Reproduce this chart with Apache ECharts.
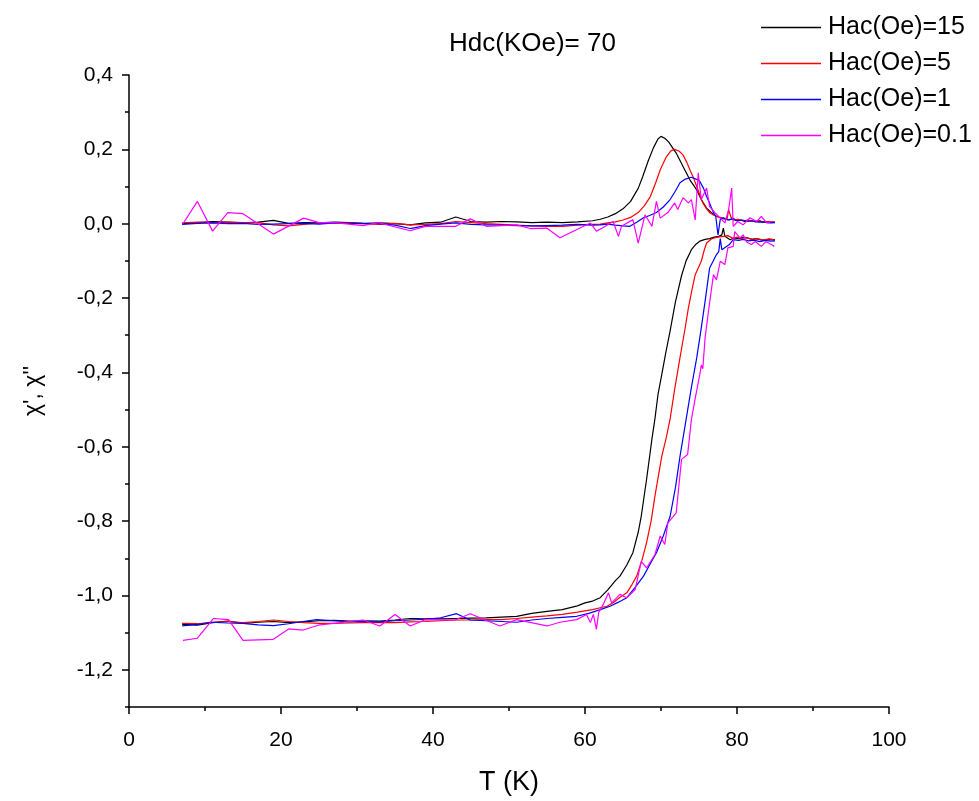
<!DOCTYPE html>
<html>
<head>
<meta charset="utf-8">
<script src="https://cdn.jsdelivr.net/npm/echarts@6/dist/echarts.min.js"></script>
<style>html,body{margin:0;padding:0;background:#fff}#c{width:979px;height:801px}</style>
</head>
<body>
<div id="c"></div>
<script>
// ---- data (T in K, chi values) ----
const seriesNames = ['Hac(Oe)=15', 'Hac(Oe)=5', 'Hac(Oe)=1', 'Hac(Oe)=0.1'];
const titleText = 'Hdc(KOe)= 70';
const xTicks = [0, 20, 40, 60, 80, 100];
const yTickLabels = [-1.2, -1.0, -0.8, -0.6, -0.4, -0.2, 0, 0.2, 0.4];
const yMinorTicks = [-1.3, -1.1, -0.9, -0.7, -0.5, -0.3, -0.1, 0.1, 0.3];

const imag15 = [[7,0.000],[9,0.003],[11,0.006],[13,0.004],[15,0.002],[17,0.004],[19,0.009],[21,0.001],[23,0.003],[25,0.002],[27,0.004],[29,0.003],[31,0.001],[33,0.002],[35,0.000],[37,-0.003],[39,0.002],[41,0.004],[43,0.018],[45,0.006],[47,0.004],[49,0.006],[51,0.005],[53,0.003],[55,0.004],[57,0.003],[59,0.005],[61,0.008],[62,0.012],[63,0.018],[64,0.027],[65,0.040],[66,0.060],[67,0.095],[67.6,0.127],[68.3,0.168],[69,0.204],[69.6,0.228],[70,0.235],[70.5,0.230],[71,0.220],[71.4,0.208],[72,0.190],[72.9,0.154],[73.8,0.118],[74.7,0.091],[75.3,0.065],[76,0.042],[76.6,0.030],[77.3,0.020],[78,0.014],[78.5,0.012],[79,0.010],[79.5,0.014],[80,0.008],[80.5,0.010],[81,0.006],[81.5,0.009],[82,0.007],[82.5,0.005],[83,0.008],[83.5,0.004],[84,0.006],[84.5,0.003],[85,0.004]];
const real15 = [[7,-1.078],[9,-1.080],[11,-1.073],[13,-1.069],[15,-1.075],[17,-1.072],[19,-1.070],[21,-1.073],[23,-1.071],[25,-1.068],[27,-1.067],[29,-1.069],[31,-1.068],[33,-1.069],[35,-1.066],[37,-1.062],[39,-1.063],[41,-1.063],[43,-1.062],[45,-1.061],[47,-1.060],[49,-1.058],[51,-1.056],[53,-1.048],[55,-1.043],[57,-1.038],[59,-1.028],[60,-1.020],[61,-1.015],[62,-1.006],[63,-0.985],[64,-0.960],[64.6,-0.948],[65.5,-0.918],[66.3,-0.885],[67,-0.830],[67.4,-0.787],[68.1,-0.688],[68.8,-0.580],[69.2,-0.525],[69.6,-0.460],[70.1,-0.406],[70.6,-0.350],[71.2,-0.288],[71.9,-0.210],[72.7,-0.140],[73.3,-0.100],[74,-0.070],[74.6,-0.055],[75.1,-0.047],[75.8,-0.042],[76.4,-0.040],[77,-0.036],[77.6,-0.034],[78,-0.030],[78.2,-0.012],[78.4,-0.034],[79.1,-0.043],[79.6,-0.038],[80.2,-0.040],[80.8,-0.036],[81.3,-0.038],[82,-0.042],[82.5,-0.040],[83,-0.043],[83.6,-0.045],[84.2,-0.042],[85,-0.043]];

const imag5 = [[7,0.002],[9,0.004],[11,0.003],[13,0.004],[15,0.003],[17,0.003],[19,-0.003],[21,-0.006],[23,-0.002],[25,0.002],[27,0.003],[29,0.002],[31,0.000],[33,-0.002],[35,0.001],[37,-0.003],[39,-0.002],[41,0.000],[43,0.006],[45,0.003],[47,0.000],[49,-0.002],[51,-0.004],[53,-0.006],[55,-0.007],[57,-0.007],[59,-0.004],[61,-0.002],[62,-0.001],[63,0.002],[64,0.005],[65,0.010],[66,0.017],[67,0.030],[67.8,0.048],[68.6,0.073],[69.3,0.110],[69.9,0.145],[70.7,0.180],[71.3,0.196],[71.8,0.200],[72.4,0.195],[72.9,0.185],[73.4,0.165],[73.8,0.145],[74.3,0.122],[74.7,0.100],[75.1,0.078],[75.5,0.056],[76,0.040],[76.4,0.030],[77,0.022],[77.6,0.018],[78.2,0.015],[78.7,0.013],[78.9,0.038],[79.2,0.018],[79.6,0.010],[80.2,0.012],[80.8,0.008],[81.5,0.010],[82,0.006],[82.8,0.008],[83.5,0.004],[84.2,0.006],[85,0.004]];
const real5 = [[7,-1.075],[9,-1.076],[11,-1.072],[13,-1.070],[15,-1.073],[17,-1.070],[19,-1.066],[21,-1.070],[23,-1.073],[25,-1.075],[27,-1.075],[29,-1.074],[31,-1.073],[33,-1.073],[35,-1.073],[37,-1.071],[39,-1.070],[41,-1.068],[43,-1.066],[45,-1.066],[47,-1.065],[49,-1.065],[51,-1.062],[53,-1.058],[55,-1.055],[57,-1.051],[59,-1.045],[61,-1.038],[62,-1.033],[62.9,-1.029],[63.8,-1.018],[64.6,-1.005],[65.5,-0.993],[66.2,-0.970],[66.8,-0.948],[67.5,-0.905],[68.1,-0.858],[68.7,-0.800],[69.2,-0.733],[70.1,-0.626],[70.7,-0.575],[71.2,-0.525],[71.8,-0.445],[72.5,-0.360],[73.1,-0.290],[73.6,-0.227],[74.1,-0.175],[74.5,-0.137],[75.3,-0.101],[75.7,-0.070],[76,-0.052],[76.7,-0.040],[77.3,-0.037],[78.2,-0.034],[78.8,-0.032],[79.5,-0.040],[80,-0.036],[80.6,-0.040],[81.2,-0.037],[82,-0.042],[82.7,-0.040],[83.4,-0.044],[84.2,-0.041],[85,-0.044]];

const imag1 = [[7,-0.002],[9,0.001],[11,0.002],[13,0.000],[15,0.001],[17,-0.002],[19,-0.001],[21,0.000],[23,0.001],[25,-0.001],[27,0.002],[29,0.001],[31,0.000],[33,0.000],[35,-0.004],[37,-0.013],[39,-0.005],[41,-0.001],[43,0.002],[45,-0.002],[47,-0.003],[49,-0.004],[51,-0.005],[53,-0.006],[55,-0.005],[57,-0.004],[59,-0.002],[61,-0.004],[62,-0.003],[63,-0.001],[64,-0.004],[65,-0.006],[65.9,-0.007],[66.8,0.004],[67.7,0.016],[68.5,0.022],[69.4,0.030],[70.3,0.045],[71.2,0.065],[71.9,0.088],[72.5,0.110],[73.2,0.120],[74,0.125],[74.6,0.120],[75.1,0.114],[75.6,0.095],[76,0.073],[76.5,0.050],[76.9,0.030],[77.2,0.020],[77.5,-0.030],[77.8,0.012],[78.2,0.016],[78.8,0.010],[79.3,0.013],[80,0.008],[80.7,0.010],[81.4,0.006],[82,0.008],[82.8,0.004],[83.5,0.005],[84.2,0.002],[85,0.003]];
const real1 = [[7,-1.082],[9,-1.078],[10.7,-1.072],[13,-1.074],[15,-1.075],[17,-1.079],[19,-1.081],[21,-1.076],[22.9,-1.070],[24.7,-1.065],[27,-1.068],[29,-1.071],[30.4,-1.070],[33,-1.071],[35,-1.068],[37,-1.066],[39,-1.064],[41,-1.060],[43.1,-1.049],[44.9,-1.066],[47,-1.068],[49,-1.070],[51,-1.072],[53,-1.066],[55,-1.062],[57,-1.059],[58.9,-1.056],[60.5,-1.048],[62,-1.038],[63.3,-1.029],[64.4,-1.018],[65.5,-1.006],[66.6,-0.978],[67.7,-0.948],[68.5,-0.918],[69.4,-0.885],[70.3,-0.840],[71.2,-0.787],[71.9,-0.710],[72.5,-0.626],[73.3,-0.527],[74,-0.440],[74.7,-0.361],[75.3,-0.280],[75.8,-0.209],[76.4,-0.119],[77.3,-0.083],[77.6,-0.075],[77.8,-0.040],[78,-0.070],[78.2,-0.065],[79,-0.056],[79.5,-0.043],[80.2,-0.045],[80.8,-0.042],[81.5,-0.046],[82.2,-0.044],[83,-0.048],[83.7,-0.045],[84.4,-0.047],[85,-0.046]];

const imag01 = [[7.1,0.000],[9,0.060],[11,-0.020],[13,0.030],[15,0.027],[19,-0.028],[23,0.015],[25,0.003],[27,0.003],[30.8,-0.005],[32.8,0.003],[37,-0.019],[39,-0.007],[43,-0.007],[44.9,0.013],[47,-0.007],[51,-0.003],[52.8,-0.013],[55,-0.012],[56.7,-0.038],[60.7,0.002],[61.5,-0.020],[62.4,-0.010],[63.7,0.006],[64.4,-0.034],[64.8,-0.007],[66.3,0.011],[67,-0.052],[67.9,0.024],[68.8,-0.007],[69.4,0.060],[69.9,0.015],[70.9,0.030],[71.8,0.056],[72.2,0.038],[72.9,0.070],[73.6,0.056],[74,0.065],[74.5,0.010],[74.9,0.137],[75.3,0.065],[76,0.096],[76.4,0.046],[77.1,0.030],[77.8,0.015],[78.4,0.002],[78.9,0.038],[79.3,0.096],[79.5,-0.007],[80.1,0.006],[80.8,-0.003],[81.7,0.016],[82.6,0.006],[83.2,0.020],[83.9,0.002],[84.7,0.006]];
const real01 = [[7.1,-1.121],[9,-1.115],[11.1,-1.062],[13.1,-1.065],[15,-1.121],[19,-1.118],[21,-1.090],[22.9,-1.093],[24.9,-1.080],[30.8,-1.066],[33,-1.082],[35,-1.051],[37,-1.082],[39,-1.065],[42.9,-1.066],[44.9,-1.049],[48.8,-1.082],[51,-1.065],[55,-1.082],[56.7,-1.072],[58.9,-1.065],[60.2,-1.051],[60.7,-1.073],[61.1,-1.051],[61.5,-1.091],[61.8,-1.046],[62.4,-1.024],[63.1,-0.993],[63.5,-1.020],[64.6,-0.997],[65.5,-1.006],[66.6,-0.984],[67.4,-0.908],[68.1,-0.926],[69.2,-0.890],[69.9,-0.840],[70.5,-0.863],[70.9,-0.805],[72,-0.778],[72.7,-0.634],[73.5,-0.621],[74,-0.527],[74.5,-0.470],[75.1,-0.406],[75.3,-0.380],[75.5,-0.390],[75.8,-0.307],[76.3,-0.227],[76.9,-0.137],[77.3,-0.151],[77.8,-0.101],[78.4,-0.110],[78.8,-0.065],[79.5,-0.061],[79.7,-0.021],[80.4,-0.038],[80.8,-0.030],[81.3,-0.050],[81.9,-0.056],[82.4,-0.048],[83.2,-0.061],[83.8,-0.048],[84.5,-0.056],[84.9,-0.061]];

const colors = ['#000000', '#ff0000', '#0000ff', '#ff00ff'];
const branches = [[imag15, real15], [imag5, real5], [imag1, real1], [imag01, real01]];

const SANS = '"Liberation Sans", Arial, sans-serif';

const series = [];
branches.forEach((pair, i) => {
  pair.forEach(d => {
    series.push({
      name: seriesNames[i], type: 'line', data: d, yAxisIndex: 0,
      symbol: 'none', showSymbol: false, smooth: false,
      lineStyle: { color: colors[i], width: 1.2 }, itemStyle: { color: colors[i] },
      emphasis: { disabled: true }, z: 2 + i
    });
  });
});

const chart = echarts.init(document.getElementById('c'), null, { renderer: 'canvas' });
chart.setOption({
  animation: false,
  backgroundColor: '#ffffff',
  title: {
    text: titleText, left: 444, top: 26,
    textStyle: { fontFamily: SANS, fontSize: 26, fontWeight: 'normal', color: '#000' }
  },
  legend: {
    data: seriesNames, orient: 'vertical', left: 761, top: 15, padding: 0,
    icon: 'rect', itemWidth: 60, itemHeight: 1.5, itemGap: 11,
    textStyle: { fontFamily: SANS, fontSize: 25, color: '#000', padding: [0, 0, 0, 2] }
  },
  grid: { left: 129, right: 90, top: 75, bottom: 91, containLabel: false },
  xAxis: {
    type: 'value', min: 0, max: 100, interval: 20,
    name: 'T (K)', nameLocation: 'middle', nameGap: 62,
    nameTextStyle: { fontFamily: SANS, fontSize: 27, color: '#000' },
    axisLine: { show: true, onZero: false, lineStyle: { color: '#000', width: 1.5 } },
    axisTick: { show: true, length: 7, lineStyle: { color: '#000', width: 1.5 } },
    minorTick: { show: true, splitNumber: 2, length: 4, lineStyle: { color: '#000', width: 1.5 } },
    axisLabel: { fontFamily: SANS, fontSize: 21, color: '#000', margin: 23,
      customValues: xTicks },
    splitLine: { show: false }, minorSplitLine: { show: false }
  },
  yAxis: [{
    type: 'value', min: -1.3, max: 0.4, interval: 0.1,
    name: 'χ\', χ\'\'', nameLocation: 'middle', nameGap: 84, nameRotate: 90,
    nameTextStyle: { fontFamily: SANS, fontSize: 23, color: '#000' },
    axisLine: { show: true, onZero: false, lineStyle: { color: '#000', width: 1.5 } },
    axisTick: { show: true, length: 7, customValues: yTickLabels, lineStyle: { color: '#000', width: 1.5 } },
    axisLabel: { fontFamily: SANS, fontSize: 21, color: '#000', margin: 16,
      customValues: yTickLabels,
      formatter: v => (Math.abs(v) < 1e-9 ? 0 : v).toFixed(1).replace('.', ',') },
    splitLine: { show: false }
  }, {
    type: 'value', min: -1.3, max: 0.4, interval: 0.1, position: 'left',
    axisLine: { show: false },
    axisTick: { show: true, length: 4, customValues: yMinorTicks, lineStyle: { color: '#000', width: 1.5 } },
    axisLabel: { show: false },
    splitLine: { show: false }
  }],
  series: series
});
</script>
</body>
</html>
